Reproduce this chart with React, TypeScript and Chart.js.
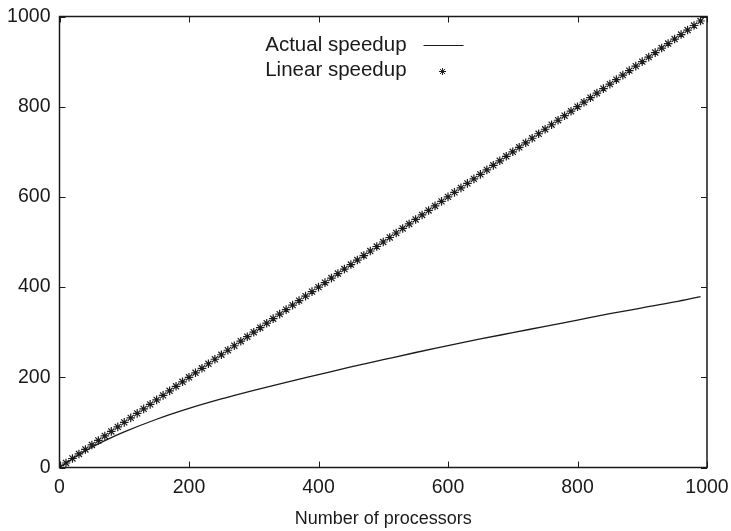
import React, { useEffect, useRef } from "react";
import { Chart, registerables } from "chart.js";

Chart.register(...registerables);

// ---- Data ----
const xTicks = [0, 200, 400, 600, 800, 1000];
const yTicks = [0, 200, 400, 600, 800, 1000];

const actualLabel = "Actual speedup";
const linearLabel = "Linear speedup";
const xTitle = "Number of processors";

const actualProcessors = [1, 25, 50, 75, 100, 150, 200, 250, 300, 350, 400, 450, 500, 550, 600, 650, 700, 750, 800, 850, 900, 950, 990];
const actualSpeedup = [1, 24, 45, 63, 79, 107, 131, 152, 171, 189, 206, 223, 239, 255, 270, 285, 299, 313, 327, 341, 354, 367, 379];

const linearProcessors = [
  0, 10, 20, 30, 40, 50, 60, 70, 80, 90,
  100, 110, 120, 130, 140, 150, 160, 170, 180, 190,
  200, 210, 220, 230, 240, 250, 260, 270, 280, 290,
  300, 310, 320, 330, 340, 350, 360, 370, 380, 390,
  400, 410, 420, 430, 440, 450, 460, 470, 480, 490,
  500, 510, 520, 530, 540, 550, 560, 570, 580, 590,
  600, 610, 620, 630, 640, 650, 660, 670, 680, 690,
  700, 710, 720, 730, 740, 750, 760, 770, 780, 790,
  800, 810, 820, 830, 840, 850, 860, 870, 880, 890,
  900, 910, 920, 930, 940, 950, 960, 970, 980, 990,
];
const linearSpeedup = [
  0, 10, 20, 30, 40, 50, 60, 70, 80, 90,
  100, 110, 120, 130, 140, 150, 160, 170, 180, 190,
  200, 210, 220, 230, 240, 250, 260, 270, 280, 290,
  300, 310, 320, 330, 340, 350, 360, 370, 380, 390,
  400, 410, 420, 430, 440, 450, 460, 470, 480, 490,
  500, 510, 520, 530, 540, 550, 560, 570, 580, 590,
  600, 610, 620, 630, 640, 650, 660, 670, 680, 690,
  700, 710, 720, 730, 740, 750, 760, 770, 780, 790,
  800, 810, 820, 830, 840, 850, 860, 870, 880, 890,
  900, 910, 920, 930, 940, 950, 960, 970, 980, 990,
];

const FONT = "'Liberation Sans', Arial, sans-serif";
const INK = "#1a1a1a";

function drawStar(ctx: CanvasRenderingContext2D, x: number, y: number, r: number) {
  ctx.beginPath();
  ctx.moveTo(x - r, y);
  ctx.lineTo(x + r, y);
  ctx.moveTo(x, y - r);
  ctx.lineTo(x, y + r);
  const d = r * Math.SQRT1_2;
  ctx.moveTo(x - d, y - d);
  ctx.lineTo(x + d, y + d);
  ctx.moveTo(x - d, y + d);
  ctx.lineTo(x + d, y - d);
  ctx.stroke();
}

const framePlugin = {
  id: "frame",
  afterDatasetsDraw(chart: any) {
    const { ctx, chartArea } = chart;
    const { left, right, top, bottom } = chartArea;
    const xs = chart.scales.x;
    const ys = chart.scales.y;
    ctx.save();
    ctx.strokeStyle = INK;
    ctx.lineWidth = 1.5;
    ctx.strokeRect(left, top, right - left, bottom - top);
    ctx.lineWidth = 1;
    const tl = 6;
    xTicks.forEach((v) => {
      const px = Math.round(xs.getPixelForValue(v)) + 0.5;
      ctx.beginPath();
      ctx.moveTo(px, bottom);
      ctx.lineTo(px, bottom - tl);
      ctx.moveTo(px, top);
      ctx.lineTo(px, top + tl);
      ctx.stroke();
    });
    yTicks.forEach((v) => {
      const py = Math.round(ys.getPixelForValue(v)) + 0.5;
      ctx.beginPath();
      ctx.moveTo(left, py);
      ctx.lineTo(left + tl, py);
      ctx.moveTo(right, py);
      ctx.lineTo(right - tl, py);
      ctx.stroke();
    });

    // key (gnuplot style)
    const ds = chart.data.datasets;
    const textRight = left + (right - left) * 0.536;
    const row1 = top + 28.5;
    const row2 = top + 54;
    ctx.fillStyle = INK;
    ctx.font = `20.5px ${FONT}`;
    ctx.textAlign = "right";
    ctx.textBaseline = "middle";
    ctx.fillText(ds[0].label, textRight, row1);
    ctx.fillText(ds[1].label, textRight, row2);
    ctx.lineWidth = 1.2;
    ctx.beginPath();
    ctx.moveTo(textRight + 17, row1 + 0.5);
    ctx.lineTo(textRight + 57, row1 + 0.5);
    ctx.stroke();
    ctx.lineWidth = 1;
    drawStar(ctx, textRight + 36, row2 + 1, 3.5);
    ctx.restore();
  },
};

export default function App() {
  const ref = useRef<HTMLCanvasElement | null>(null);
  useEffect(() => {
    if (!ref.current) return;
    const chart = new Chart(ref.current, {
      type: "scatter",
      data: {
        datasets: [
          {
            label: actualLabel,
            data: actualProcessors.map((p, i) => ({ x: p, y: actualSpeedup[i] })),
            showLine: true,
            borderColor: INK,
            borderWidth: 1.3,
            pointRadius: 0,
            cubicInterpolationMode: "monotone",
            fill: false,
          } as any,
          {
            label: linearLabel,
            data: linearProcessors.map((p, i) => ({ x: p, y: linearSpeedup[i] })),
            showLine: false,
            pointStyle: "star",
            pointRadius: 4.3,
            borderColor: INK,
            backgroundColor: INK,
            borderWidth: 1.2,
          } as any,
        ],
      },
      options: {
        animation: false,
        responsive: false,
        layout: { padding: { top: 16.5, right: 24, left: 0, bottom: 0 } },
        plugins: {
          legend: { display: false },
          tooltip: { enabled: false },
        },
        scales: {
          x: {
            type: "linear",
            min: 0,
            max: 1000,
            afterFit: (s: any) => {
              s.height = 63.5;
              s.paddingLeft = 0;
              s.paddingRight = 0;
            },
            afterBuildTicks: (s: any) => {
              s.ticks = xTicks.map((v) => ({ value: v }));
            },
            grid: { display: false, drawTicks: false },
            border: { display: false },
            ticks: {
              color: INK,
              font: { family: FONT, size: 19.5 },
              padding: 8,
              maxRotation: 0,
              callback: (v: any) => String(v),
            },
            title: {
              display: true,
              text: xTitle,
              color: INK,
              font: { family: FONT, size: 18 },
              padding: { top: 0, bottom: 1.5 },
            },
          },
          y: {
            type: "linear",
            min: 0,
            max: 1000,
            afterFit: (s: any) => {
              s.width = 59.5;
              s.paddingTop = 0;
              s.paddingBottom = 0;
            },
            afterBuildTicks: (s: any) => {
              s.ticks = yTicks.map((v) => ({ value: v }));
            },
            grid: { display: false, drawTicks: false },
            border: { display: false },
            ticks: {
              color: INK,
              font: { family: FONT, size: 19.5 },
              padding: 9,
              callback: (v: any) => String(v),
            },
          },
        },
      },
      plugins: [framePlugin],
    });
    return () => chart.destroy();
  }, []);
  return (
    <div style={{ position: "absolute", left: 0, top: 0, width: 731, height: 531, background: "#fff" }}>
      <canvas ref={ref} width={731} height={531} style={{ display: "block" }} />
    </div>
  );
}
